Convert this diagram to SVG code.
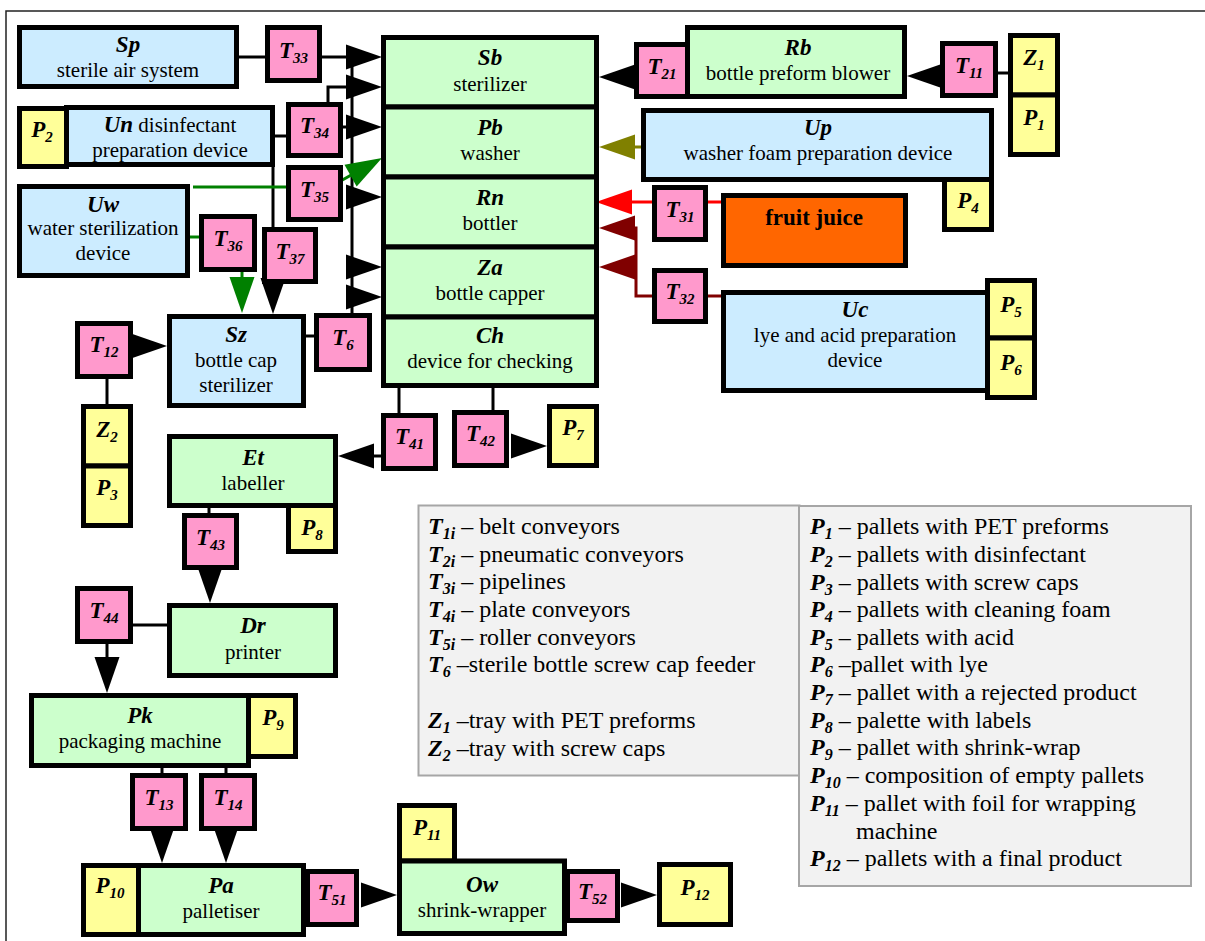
<svg xmlns="http://www.w3.org/2000/svg" xmlns:xlink="http://www.w3.org/1999/xlink" width="1205" height="941" viewBox="0 0 1205 941" font-family="Liberation Serif, DejaVu Serif, Times New Roman, serif">
<style>
.bx{stroke:#000;stroke-width:5}
.g{fill:#CCFFCC}.b{fill:#CCECFF}.pk{fill:#FF99CC}.y{fill:#FFFF99}.o{fill:#FF6600}
text{fill:#000}
.m{text-anchor:middle}
.ttl{font-size:23px;font-weight:bold;font-style:italic}
.lbl{font-size:21px}
.tl{font-size:23px;font-weight:bold;font-style:italic}
.sub{font-size:15px}
.leg{font-size:24px}
.lk{font-weight:bold;font-style:italic}
.ls{font-size:16px;font-weight:bold;font-style:italic}
.c{fill:none;stroke:#000;stroke-width:3}
.cg{fill:none;stroke:#008000;stroke-width:3}
.cr{fill:none;stroke:#FF0000;stroke-width:3}
.cd{fill:none;stroke:#800000;stroke-width:3}
.co{fill:none;stroke:#808000;stroke-width:3}
.lg{fill:#F2F2F2;stroke:#A6A6A6;stroke-width:2}
</style>
<defs>
<polygon id="a" points="-36,-12.5 0,0 -36,12.5"/>
</defs>
<rect x="0" y="0" width="1205" height="941" fill="#fff"/>
<path d="M1205,11 H6 V941" fill="none" stroke="#222" stroke-width="1.5"/>

<g id="connectors">
<path class="c" d="M239,57 H265"/>
<path class="c" d="M322,57 H350"/>
<use xlink:href="#a" transform="translate(382,57)"/>
<path class="c" d="M328,102 V87 H350"/>
<use xlink:href="#a" transform="translate(382,87)"/>
<path class="c" d="M343,127 H350"/>
<use xlink:href="#a" transform="translate(382,127)"/>
<path class="c" d="M352,62 V313"/>
<use xlink:href="#a" transform="translate(382,197)"/>
<use xlink:href="#a" transform="translate(382,267)"/>
<use xlink:href="#a" transform="translate(382,297)"/>
<path class="c" d="M275,136 H286"/>
<path class="c" d="M273,167 V230"/>
<use xlink:href="#a" transform="translate(273,314) rotate(90)"/>
<path class="cg" d="M193,187 H330 L360,170"/>
<use xlink:href="#a" fill="#008000" transform="translate(382,158) rotate(-29.2)"/>
<path class="cg" d="M190,237 H199"/>
<path class="cg" d="M242,272 V280"/>
<use xlink:href="#a" fill="#008000" transform="translate(242,313) rotate(90)"/>
<path class="c" d="M306,336 H314"/>
<use xlink:href="#a" transform="translate(167,346)"/>
<path class="c" d="M107,379 V404"/>
<path class="c" d="M399,388 V413"/>
<path class="c" d="M381,456 H370"/>
<use xlink:href="#a" transform="translate(338,456) rotate(180)"/>
<path class="c" d="M493,388 V410"/>
<use xlink:href="#a" transform="translate(547,446)"/>
<path class="c" d="M209,508 V513"/>
<use xlink:href="#a" transform="translate(210,603) rotate(90)"/>
<path class="c" d="M133,625 H167"/>
<path class="c" d="M107,644 V660"/>
<use xlink:href="#a" transform="translate(107,693) rotate(90)"/>
<path class="c" d="M162,768 V773"/>
<use xlink:href="#a" transform="translate(162,863) rotate(90)"/>
<path class="c" d="M226,768 V773"/>
<use xlink:href="#a" transform="translate(226,863) rotate(90)"/>
<use xlink:href="#a" transform="translate(397,895)"/>
<use xlink:href="#a" transform="translate(657,895)"/>
<use xlink:href="#a" transform="translate(599,77) rotate(180)"/>
<use xlink:href="#a" transform="translate(907,76) rotate(180)"/>
<path class="c" d="M998,73 H1008"/>
<path class="co" d="M641,147 H630"/>
<use xlink:href="#a" fill="#808000" transform="translate(599,147) rotate(180)"/>
<path class="cr" d="M722,202 H630"/>
<use xlink:href="#a" fill="#FF0000" transform="translate(596,202) rotate(180)"/>
<path class="cd" d="M722,296 H636 V228 H630"/>
<path class="cd" d="M636,267 H630"/>
<use xlink:href="#a" fill="#800000" transform="translate(599,228) rotate(180)"/>
<use xlink:href="#a" fill="#800000" transform="translate(599,267) rotate(180)"/>
</g>

<g id="Sp"><rect class="bx b" x="19.5" y="27.5" width="217" height="59"/>
<text class="m ttl" x="128" y="52">Sp</text><text class="m lbl" x="128" y="77">sterile air system</text></g>
<g id="T33"><rect class="bx pk" x="267.5" y="27.5" width="52" height="53"/>
<text class="m tl" x="293.5" y="58">T<tspan class="sub" dy="5">33</tspan></text></g>

<g id="Sb"><rect class="bx g" x="383.5" y="37.5" width="213" height="69.5"/>
<text class="m ttl" x="490" y="65">Sb</text><text class="m lbl" x="490" y="91">sterilizer</text></g>
<g id="Pb"><rect class="bx g" x="383.5" y="107" width="213" height="70"/>
<text class="m ttl" x="490" y="135">Pb</text><text class="m lbl" x="490" y="160">washer</text></g>
<g id="Rn"><rect class="bx g" x="383.5" y="177" width="213" height="70"/>
<text class="m ttl" x="490" y="205">Rn</text><text class="m lbl" x="490" y="230">bottler</text></g>
<g id="Za"><rect class="bx g" x="383.5" y="247" width="213" height="70"/>
<text class="m ttl" x="490" y="275">Za</text><text class="m lbl" x="490" y="300">bottle capper</text></g>
<g id="Ch"><rect class="bx g" x="383.5" y="317" width="213" height="68.5"/>
<text class="m ttl" x="490" y="343">Ch</text><text class="m lbl" x="490" y="368">device for checking</text></g>

<g id="T21"><rect class="bx pk" x="636.5" y="44.5" width="51" height="52"/>
<text class="m tl" x="662" y="74">T<tspan class="sub" dy="5">21</tspan></text></g>
<g id="Rb"><rect class="bx g" x="687.5" y="27.5" width="217" height="69"/>
<text class="m ttl" x="798" y="55">Rb</text><text class="m lbl" x="798" y="80">bottle preform blower</text></g>
<g id="T11"><rect class="bx pk" x="942.5" y="43.5" width="53" height="52"/>
<text class="m tl" x="969" y="73">T<tspan class="sub" dy="5">11</tspan></text></g>
<g id="Z1"><rect class="bx y" x="1010.5" y="35.5" width="47" height="59.5"/>
<text class="m tl" x="1034" y="65">Z<tspan class="sub" dy="5">1</tspan></text></g>
<g id="P1"><rect class="bx y" x="1010.5" y="95" width="47" height="59.5"/>
<text class="m tl" x="1034" y="125">P<tspan class="sub" dy="5">1</tspan></text></g>

<g id="Up"><rect class="bx b" x="643.5" y="110.5" width="348" height="69"/>
<text class="m ttl" x="818" y="135">Up</text><text class="m lbl" x="818" y="160">washer foam preparation device</text></g>
<g id="P4"><rect class="bx y" x="944.5" y="179.5" width="47" height="50"/>
<text class="m tl" x="968" y="208">P<tspan class="sub" dy="5">4</tspan></text></g>

<g id="T31"><rect class="bx pk" x="654.5" y="187.5" width="51" height="52"/>
<text class="m tl" x="680" y="217">T<tspan class="sub" dy="5">31</tspan></text></g>
<g id="fruit"><rect class="bx o" x="723.5" y="195.5" width="182" height="70"/>
<text class="m" x="814" y="225" style="font-size:23px;font-weight:bold">fruit juice</text></g>
<g id="T32"><rect class="bx pk" x="654.5" y="270.5" width="51" height="51"/>
<text class="m tl" x="680" y="299">T<tspan class="sub" dy="5">32</tspan></text></g>
<g id="Uc"><rect class="bx b" x="723.5" y="292.5" width="264" height="98"/>
<text class="m ttl" x="855" y="317">Uc</text><text class="m lbl" x="855" y="342">lye and acid preparation</text><text class="m lbl" x="855" y="367">device</text></g>
<g id="P5"><rect class="bx y" x="987.5" y="280.5" width="47" height="57.5"/>
<text class="m tl" x="1011" y="312">P<tspan class="sub" dy="5">5</tspan></text></g>
<g id="P6"><rect class="bx y" x="987.5" y="338" width="47" height="59.5"/>
<text class="m tl" x="1011" y="370">P<tspan class="sub" dy="5">6</tspan></text></g>

<g id="P2"><rect class="bx y" x="19.5" y="108.5" width="47" height="58"/>
<text class="m tl" x="42" y="137">P<tspan class="sub" dy="5">2</tspan></text></g>
<g id="Un"><rect class="bx b" x="66.5" y="107.5" width="206" height="57"/>
<text class="m lbl" x="170" y="132"><tspan class="ttl">Un</tspan> disinfectant</text><text class="m lbl" x="170" y="157">preparation device</text></g>
<g id="T34"><rect class="bx pk" x="288.5" y="104.5" width="52" height="51"/>
<text class="m tl" x="314.5" y="133">T<tspan class="sub" dy="5">34</tspan></text></g>
<g id="T35"><rect class="bx pk" x="288.5" y="167.5" width="52" height="52"/>
<text class="m tl" x="314.5" y="197">T<tspan class="sub" dy="5">35</tspan></text></g>
<g id="Uw"><rect class="bx b" x="19.5" y="186.5" width="168" height="89"/>
<text class="m ttl" x="103" y="212">Uw</text><text class="m lbl" x="103" y="235">water sterilization</text><text class="m lbl" x="103" y="260">device</text></g>
<g id="T36"><rect class="bx pk" x="201.5" y="216.5" width="53" height="53"/>
<text class="m tl" x="228" y="246">T<tspan class="sub" dy="5">36</tspan></text></g>
<g id="T37"><rect class="bx pk" x="264.5" y="229.5" width="51" height="52"/>
<text class="m tl" x="290" y="259">T<tspan class="sub" dy="5">37</tspan></text></g>

<g id="T12"><rect class="bx pk" x="77.5" y="323.5" width="53" height="53"/>
<text class="m tl" x="104" y="352">T<tspan class="sub" dy="5">12</tspan></text></g>
<g id="Sz"><rect class="bx b" x="169.5" y="316.5" width="134" height="89"/>
<text class="m ttl" x="236" y="342">Sz</text><text class="m lbl" x="236" y="367">bottle cap</text><text class="m lbl" x="236" y="392">sterilizer</text></g>
<g id="T6"><rect class="bx pk" x="316.5" y="315.5" width="53" height="54"/>
<text class="m tl" x="343" y="345">T<tspan class="sub" dy="5">6</tspan></text></g>
<g id="Z2"><rect class="bx y" x="83.5" y="406.5" width="47" height="59.5"/>
<text class="m tl" x="107" y="437">Z<tspan class="sub" dy="5">2</tspan></text></g>
<g id="P3"><rect class="bx y" x="83.5" y="466" width="47" height="59.5"/>
<text class="m tl" x="107" y="495">P<tspan class="sub" dy="5">3</tspan></text></g>

<g id="T41"><rect class="bx pk" x="383.5" y="415.5" width="52" height="53"/>
<text class="m tl" x="409.5" y="444">T<tspan class="sub" dy="5">41</tspan></text></g>
<g id="T42"><rect class="bx pk" x="454.5" y="412.5" width="52" height="53"/>
<text class="m tl" x="480.5" y="441">T<tspan class="sub" dy="5">42</tspan></text></g>
<g id="P7"><rect class="bx y" x="549.5" y="406.5" width="47" height="59"/>
<text class="m tl" x="573" y="435">P<tspan class="sub" dy="5">7</tspan></text></g>

<g id="Et"><rect class="bx g" x="169.5" y="436.5" width="166" height="69"/>
<text class="m ttl" x="253" y="465">Et</text><text class="m lbl" x="253" y="490">labeller</text></g>
<g id="P8"><rect class="bx y" x="288.5" y="505.5" width="47" height="46"/>
<text class="m tl" x="312" y="535">P<tspan class="sub" dy="5">8</tspan></text></g>
<g id="T43"><rect class="bx pk" x="184.5" y="515.5" width="52" height="52"/>
<text class="m tl" x="210.5" y="545">T<tspan class="sub" dy="5">43</tspan></text></g>
<g id="T44"><rect class="bx pk" x="77.5" y="588.5" width="53" height="53"/>
<text class="m tl" x="104" y="618">T<tspan class="sub" dy="5">44</tspan></text></g>
<g id="Dr"><rect class="bx g" x="169.5" y="605.5" width="166" height="70"/>
<text class="m ttl" x="253" y="633">Dr</text><text class="m lbl" x="253" y="659">printer</text></g>

<g id="Pk"><rect class="bx g" x="31.5" y="695.5" width="217" height="70"/>
<text class="m ttl" x="140" y="723">Pk</text><text class="m lbl" x="140" y="748">packaging machine</text></g>
<g id="P9"><rect class="bx y" x="248.5" y="695.5" width="47" height="61"/>
<text class="m tl" x="273" y="725">P<tspan class="sub" dy="5">9</tspan></text></g>
<g id="T13"><rect class="bx pk" x="132.5" y="775.5" width="53" height="53"/>
<text class="m tl" x="159" y="805">T<tspan class="sub" dy="5">13</tspan></text></g>
<g id="T14"><rect class="bx pk" x="201.5" y="775.5" width="53" height="53"/>
<text class="m tl" x="228" y="805">T<tspan class="sub" dy="5">14</tspan></text></g>

<g id="P10"><rect class="bx y" x="83.5" y="865.5" width="55" height="69"/>
<text class="m tl" x="110" y="893">P<tspan class="sub" dy="5">10</tspan></text></g>
<g id="Pa"><rect class="bx g" x="138.5" y="865.5" width="165" height="69"/>
<text class="m ttl" x="221" y="893">Pa</text><text class="m lbl" x="221" y="918">palletiser</text></g>
<g id="T51"><rect class="bx pk" x="307.5" y="871.5" width="49" height="53"/>
<text class="m tl" x="332" y="900">T<tspan class="sub" dy="5">51</tspan></text></g>
<g id="P11"><rect class="bx y" x="399.5" y="805.5" width="55" height="55.5"/>
<text class="m tl" x="427" y="835">P<tspan class="sub" dy="5">11</tspan></text></g>
<g id="Ow"><rect class="bx g" x="399.5" y="861" width="165" height="72.5"/>
<text class="m ttl" x="482" y="892">Ow</text><text class="m lbl" x="482" y="917">shrink-wrapper</text></g>
<g id="T52"><rect class="bx pk" x="567.5" y="871.5" width="50" height="49"/>
<text class="m tl" x="592.5" y="899">T<tspan class="sub" dy="5">52</tspan></text></g>
<g id="P12"><rect class="bx y" x="659.5" y="864.5" width="71" height="60"/>
<text class="m tl" x="695" y="895">P<tspan class="sub" dy="5">12</tspan></text></g>

<g id="legend1"><rect class="lg" x="418.5" y="505.5" width="381" height="270"/>
<text class="leg" x="428" y="534"><tspan class="lk">T</tspan><tspan class="ls" dy="5">1i</tspan><tspan dy="-5"> – belt conveyors</tspan></text>
<text class="leg" x="428" y="562"><tspan class="lk">T</tspan><tspan class="ls" dy="5">2i</tspan><tspan dy="-5"> – pneumatic conveyors</tspan></text>
<text class="leg" x="428" y="589"><tspan class="lk">T</tspan><tspan class="ls" dy="5">3i</tspan><tspan dy="-5"> – pipelines</tspan></text>
<text class="leg" x="428" y="617"><tspan class="lk">T</tspan><tspan class="ls" dy="5">4i</tspan><tspan dy="-5"> – plate conveyors</tspan></text>
<text class="leg" x="428" y="645"><tspan class="lk">T</tspan><tspan class="ls" dy="5">5i</tspan><tspan dy="-5"> – roller conveyors</tspan></text>
<text class="leg" x="428" y="672"><tspan class="lk">T</tspan><tspan class="ls" dy="5">6</tspan><tspan dy="-5"> –sterile bottle screw cap feeder</tspan></text>
<text class="leg" x="428" y="728"><tspan class="lk">Z</tspan><tspan class="ls" dy="5">1</tspan><tspan dy="-5"> –tray with PET preforms</tspan></text>
<text class="leg" x="428" y="756"><tspan class="lk">Z</tspan><tspan class="ls" dy="5">2</tspan><tspan dy="-5"> –tray with screw caps</tspan></text>
</g>
<g id="legend2"><rect class="lg" x="799" y="506" width="392" height="380"/>
<text class="leg" x="810" y="534"><tspan class="lk">P</tspan><tspan class="ls" dy="5">1</tspan><tspan dy="-5"> – pallets with PET preforms</tspan></text>
<text class="leg" x="810" y="562"><tspan class="lk">P</tspan><tspan class="ls" dy="5">2</tspan><tspan dy="-5"> – pallets with disinfectant</tspan></text>
<text class="leg" x="810" y="590"><tspan class="lk">P</tspan><tspan class="ls" dy="5">3</tspan><tspan dy="-5"> – pallets with screw caps</tspan></text>
<text class="leg" x="810" y="617"><tspan class="lk">P</tspan><tspan class="ls" dy="5">4</tspan><tspan dy="-5"> – pallets with cleaning foam</tspan></text>
<text class="leg" x="810" y="645"><tspan class="lk">P</tspan><tspan class="ls" dy="5">5</tspan><tspan dy="-5"> – pallets with acid</tspan></text>
<text class="leg" x="810" y="672"><tspan class="lk">P</tspan><tspan class="ls" dy="5">6</tspan><tspan dy="-5"> –pallet with lye</tspan></text>
<text class="leg" x="810" y="700"><tspan class="lk">P</tspan><tspan class="ls" dy="5">7</tspan><tspan dy="-5"> – pallet with a rejected product</tspan></text>
<text class="leg" x="810" y="728"><tspan class="lk">P</tspan><tspan class="ls" dy="5">8</tspan><tspan dy="-5"> – palette with labels</tspan></text>
<text class="leg" x="810" y="755"><tspan class="lk">P</tspan><tspan class="ls" dy="5">9</tspan><tspan dy="-5"> – pallet with shrink-wrap</tspan></text>
<text class="leg" x="810" y="783"><tspan class="lk">P</tspan><tspan class="ls" dy="5">10</tspan><tspan dy="-5"> – composition of empty pallets</tspan></text>
<text class="leg" x="810" y="811"><tspan class="lk">P</tspan><tspan class="ls" dy="5">11</tspan><tspan dy="-5"> – pallet with foil for wrapping</tspan></text>
<text class="leg" x="856" y="839">machine</text>
<text class="leg" x="810" y="866"><tspan class="lk">P</tspan><tspan class="ls" dy="5">12</tspan><tspan dy="-5"> – pallets with a final product</tspan></text>
</g>
</svg>
